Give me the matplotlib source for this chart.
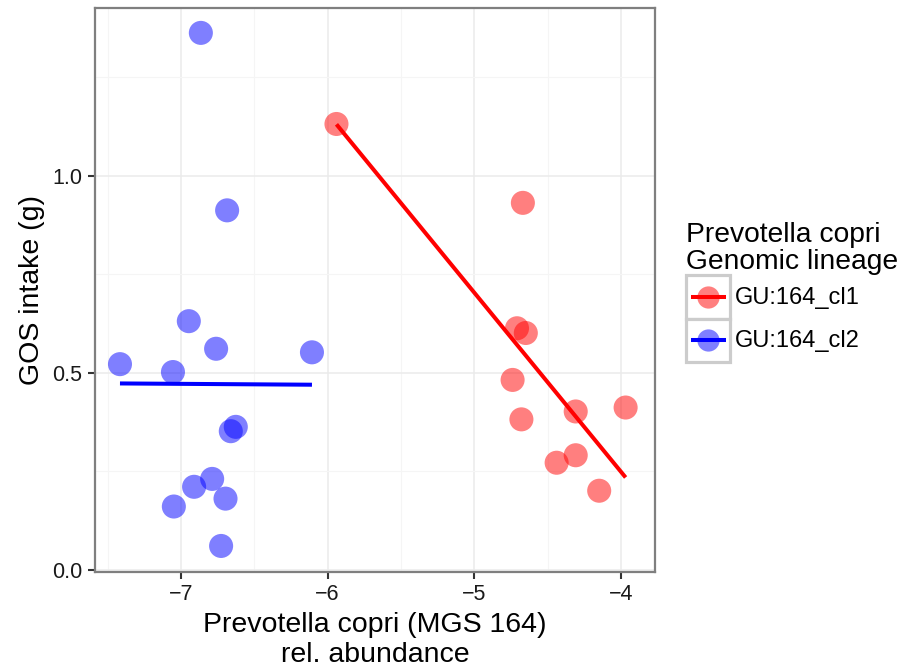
import numpy as np
import matplotlib
matplotlib.use('Agg')
import matplotlib.pyplot as plt
from matplotlib.lines import Line2D
from matplotlib.patches import Rectangle

plt.rcParams['font.family'] = ['Liberation Sans', 'DejaVu Sans']

# GU:164_cl1 (red)
x_cl1 = [-5.94, -4.67, -4.71, -4.65, -4.74, -4.68, -4.31, -3.97, -4.44, -4.31, -4.15]
y_cl1 = [1.131, 0.931, 0.613, 0.601, 0.482, 0.382, 0.402, 0.412, 0.272, 0.291, 0.201]

# GU:164_cl2 (blue)
x_cl2 = [-6.864, -6.685, -6.946, -6.76, -7.415, -7.054, -6.107, -6.626, -6.66,
         -6.787, -6.91, -6.696, -7.048, -6.726]
y_cl2 = [1.362, 0.912, 0.631, 0.561, 0.522, 0.502, 0.552, 0.363, 0.352,
         0.231, 0.211, 0.181, 0.161, 0.061]

groups = ['GU:164_cl1', 'GU:164_cl2']
colors = ['#ff0000', '#0000ff']
xs = [x_cl1, x_cl2]
ys = [y_cl1, y_cl2]


class KeyHandler:
    # ggplot-like legend key: grey box, transparent dot, line on top
    def legend_artist(self, legend, orig_handle, fontsize, handlebox):
        x0, y0 = -handlebox.xdescent, -handlebox.ydescent
        w, h = handlebox.width, handlebox.height
        c = orig_handle.get_color()
        tr = handlebox.get_transform()
        rect = Rectangle((x0, y0), w, h, facecolor='white', edgecolor='#cccccc',
                         lw=2.3, transform=tr)
        dot = Line2D([x0 + w / 2], [y0 + h / 2], marker='o', ms=16, ls='none',
                     markerfacecolor=c, markeredgecolor='none', alpha=0.5, transform=tr)
        ln = Line2D([x0 + w * 0.1, x0 + w * 0.9], [y0 + h / 2] * 2, color=c,
                    lw=2.9, solid_capstyle='butt', transform=tr)
        for a in (rect, dot, ln):
            handlebox.add_artist(a)
        return rect


fig = plt.figure(figsize=(9.19, 6.70), dpi=100)
ax = fig.add_axes([0.1034, 0.1463, 0.6093, 0.8417])

for x, y, c in zip(xs, ys, colors):
    x = np.array(x)
    y = np.array(y)
    ax.scatter(x, y, s=300, color=c, alpha=0.5, edgecolors='none', zorder=3)
    k, b = np.polyfit(x, y, 1)
    xl = np.array([x.min(), x.max()])
    ax.plot(xl, k * xl + b, color=c, lw=2.9, zorder=4, solid_capstyle='butt')

ax.set_xlim(-7.585, -3.77)
ax.set_ylim(-0.005, 1.425)
ax.set_xticks([-7, -6, -5, -4])
ax.set_xticklabels(['\u22127', '\u22126', '\u22125', '\u22124'])
ax.set_yticks([0.0, 0.5, 1.0])
ax.set_yticklabels(['0.0', '0.5', '1.0'])
ax.set_xticks([-7.5, -6.5, -5.5, -4.5], minor=True)
ax.set_yticks([0.25, 0.75, 1.25], minor=True)
ax.grid(True, which='major', color='#ebebeb', lw=1.1, zorder=0)
ax.grid(True, which='minor', color='#f5f5f5', lw=0.8, zorder=0)
ax.set_axisbelow(True)
ax.tick_params(which='major', length=5, width=1.5, color='#333333',
               labelsize=15.5, labelcolor='#1a1a1a', pad=4)
ax.tick_params(which='minor', length=0)
for s in ax.spines.values():
    s.set_color('#7f7f7f')
    s.set_linewidth(1.6)

ax.set_xlabel('Prevotella copri (MGS 164)\nrel. abundance', fontsize=20.5,
              linespacing=1.18, labelpad=5)
ax.set_ylabel('GOS intake (g)', fontsize=20.5, labelpad=5)

handles = [Line2D([], [], color=c) for c in colors]
leg = fig.legend(handles, groups, handler_map={Line2D: KeyHandler()},
                 loc='upper left', bbox_to_anchor=(0.747, 0.668),
                 title='Prevotella copri\nGenomic lineage', title_fontsize=20.3,
                 fontsize=17, frameon=False, handlelength=1.86, handleheight=2.43,
                 labelspacing=0.0, handletextpad=0.2, borderaxespad=0,
                 borderpad=0, alignment='left')
leg.get_title().set_linespacing(1.05)

fig.savefig('out.png', dpi=100)
